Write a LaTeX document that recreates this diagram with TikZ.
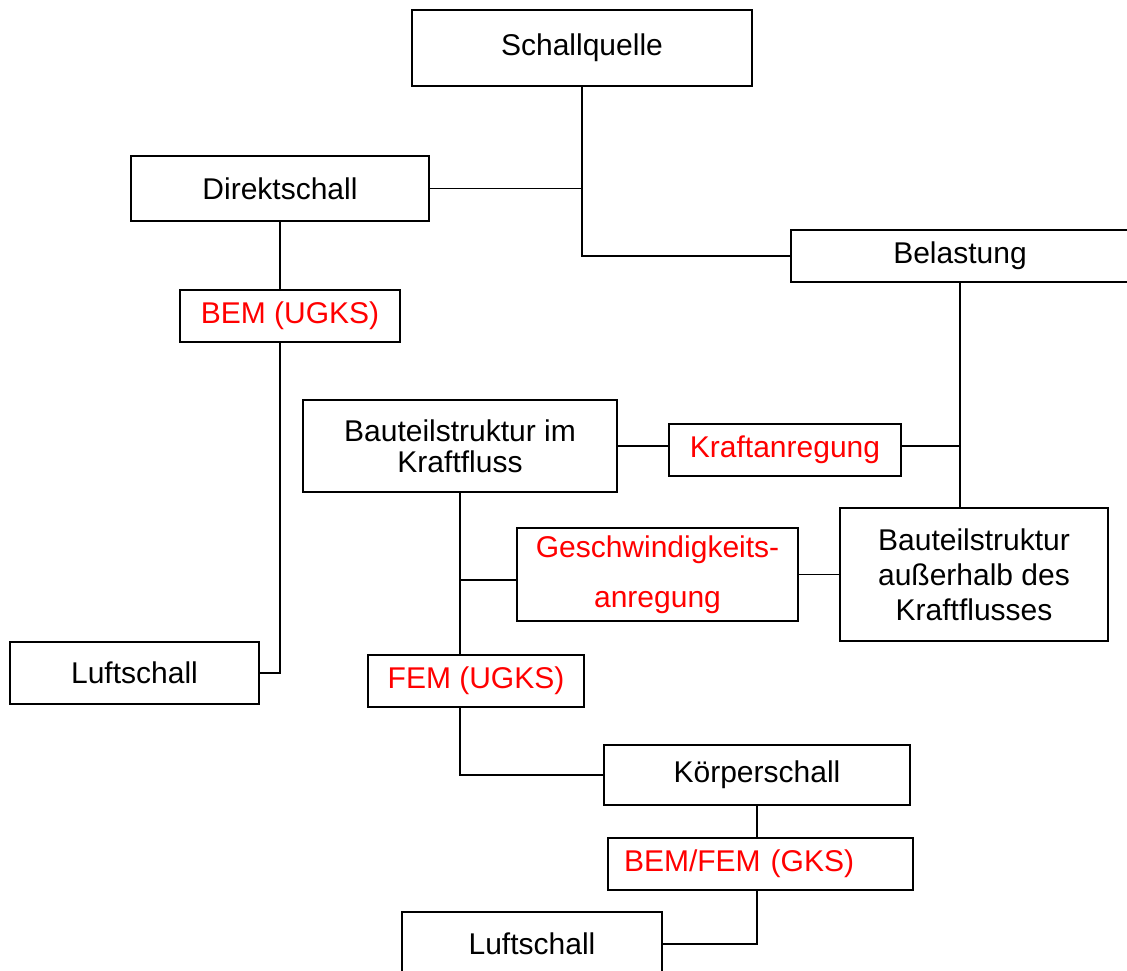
\documentclass[tikz,border=0pt]{standalone}
\usepackage{fontspec}
\setmainfont{Liberation Sans}
\begin{document}
\begin{tikzpicture}[x=1pt,y=-1pt,
  box/.style={draw, line width=1.7pt, inner sep=0pt, align=center,
    font=\fontsize{30}{35}\selectfont},
  redbox/.style={box, text=red},
  conn/.style={line width=1.7pt}]
\useasboundingbox (0,0) rectangle (1127,971);
% nodes
\node[box, minimum width=340pt, minimum height=76pt] (sq) at (582,48) {Schallquelle};
\node[box, minimum width=298pt, minimum height=65pt] (dir) at (280,188.5) {Direktschall};
\node[box, minimum width=338pt, minimum height=52pt] (bel) at (960,256) {Belastung};
\node[redbox, minimum width=220pt, minimum height=52pt] (bemu) at (290,316) {BEM (UGKS)};
\node[box, minimum width=249pt, minimum height=62pt] (luft1) at (134.5,673) {Luftschall};
\node[box, minimum width=314pt, minimum height=92pt] (bk) at (460,446) {Bauteilstruktur im\\[-4pt]Kraftfluss};
\node[redbox, minimum width=232pt, minimum height=52pt] (kraft) at (785,450) {Kraftanregung};
\node[redbox, minimum width=281pt, minimum height=93pt] (gesch) at (657.5,574.5) {Geschwindigkeits-\\[15pt]anregung};
\node[box, minimum width=268pt, minimum height=133pt] (aus) at (974,574.5) {Bauteilstruktur\\außerhalb des\\Kraftflusses};
\node[redbox, minimum width=216pt, minimum height=52pt] (fem) at (476,681) {FEM (UGKS)};
\node[box, minimum width=306pt, minimum height=60pt] (koer) at (757,775) {Körperschall};
\node[redbox, minimum width=305pt, minimum height=52pt, text width=273pt, inner xsep=16pt, align=left] (bf) at (760.5,864) {BEM/FEM (GKS)};
\node[box, minimum width=260pt, minimum height=64pt] (luft2) at (532,944) {Luftschall};
% connectors
\draw[conn] (sq.south) -- (sq.south |- bel.west) -- (bel.west);
\draw[conn] (dir.east) -- (dir.east -| sq.south);
\draw[conn] (dir.south) -- (dir.south |- bemu.north);
\draw[conn] (bemu.south -| dir.south) -- (dir.south |- luft1.east) -- (luft1.east);
\draw[conn] (bel.south) -- (bel.south |- aus.north);
\draw[conn] (bk.east) -- (bk.east -| kraft.west);
\draw[conn] (bk.east -| kraft.east) -- (bk.east -| bel.south);
\draw[conn] (gesch.east) -- (aus.west);
\draw[conn] (bk.south) -- (bk.south |- fem.north);
\coordinate (gj) at (460,580);
\draw[line width=2.6pt] (gj) -- (gj -| gesch.west);
\draw[conn] (fem.south -| bk.south) -- (bk.south |- koer.west) -- (koer.west);
\draw[conn] (koer.south) -- (koer.south |- bf.north);
\draw[conn] (bf.south -| koer.south) -- (koer.south |- luft2.east) -- (luft2.east);
\end{tikzpicture}
\end{document}
